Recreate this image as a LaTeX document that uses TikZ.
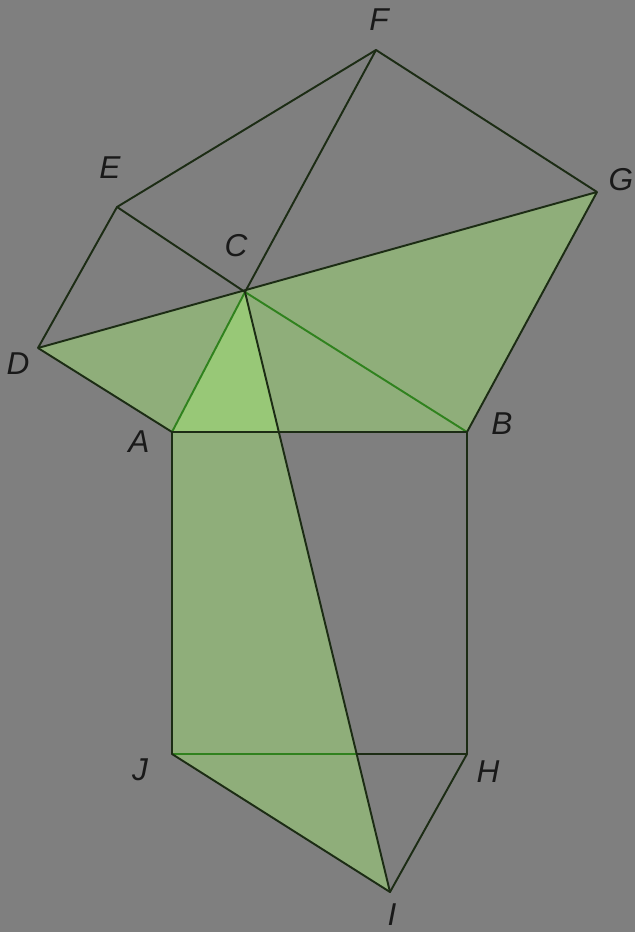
\documentclass[tikz,border=0pt]{standalone}
\usepackage{fontspec}
\setmainfont{Liberation Sans}
\usetikzlibrary{calc}
\definecolor{bggray}{RGB}{127,127,127}
\definecolor{edgecol}{RGB}{28,44,20}
\definecolor{leafgreen}{RGB}{163,232,116}
\definecolor{stemgreen}{RGB}{48,130,30}

\begin{document}
\begin{tikzpicture}[x=0.02cm,y=-0.02cm,
    edge/.style={draw=edgecol,line width=1.1pt,line join=round},
    inner/.style={draw=stemgreen,line width=1.1pt},
    shade/.style={fill=leafgreen,fill opacity=0.45},
    lbl/.style={font=\fontsize{18}{20}\selectfont\itshape,text=black!90}]
        % background, same size as the picture
        \fill[bggray] (0,0) rectangle (635,932);
        \useasboundingbox (0,0) rectangle (635,932);

        % triangle ABC, squares on its sides
        \coordinate (A) at (172,432);
        \coordinate (B) at (467,432);
        \coordinate (C) at (245,292);
        \coordinate (D) at (38,348);
        \coordinate (E) at (117,207);
        \coordinate (F) at (376,50);
        \coordinate (G) at (597,192);
        \coordinate (H) at (467,754);
        \coordinate (J) at (172,754);
        \coordinate (I) at (390,892);
        \coordinate (Q) at (intersection of C--I and J--H);

        % the two shaded pieces
        \fill[shade] (D) -- (G) -- (B) -- (A) -- cycle;
        \fill[shade] (A) -- (C) -- (I) -- (J) -- cycle;

        % lines inside the shading
        \draw[inner] (A) -- (C) -- (B);
        \draw[inner] (J) -- (Q);
        \draw[edge] (Q) -- (H);

        \draw[edge] (D) -- (E) -- (F) -- (G) -- (B) -- (H) -- (I) -- (J) -- (A) -- cycle;
        \draw[edge] (D) -- (G);
        \draw[edge] (A) -- (B);
        \draw[edge] (E) -- (C) -- (F);
        \draw[edge] (C) -- (I);

        \node[lbl] (labA) at (139,442) {A};
        \node[lbl] (labB) at (502,424) {B};
        \node[lbl] (labC) at (236,246) {C};
        \node[lbl] (labD) at (18,364) {D};
        \node[lbl] (labE) at (110,168) {E};
        \node[lbl] (labF) at (379,20) {F};
        \node[lbl] (labG) at (621,180) {G};
        \node[lbl] (labH) at (488,772) {H};
        \node[lbl] (labJ) at (140,770) {J};
        \node[lbl] (labI) at (392,915) {I};
    \end{tikzpicture}
\end{document}
